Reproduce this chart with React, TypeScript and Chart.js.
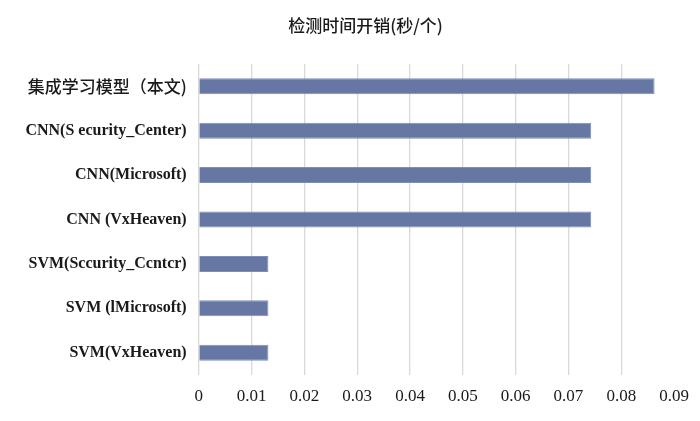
import React, { useEffect, useRef } from "react";
import { Chart, registerables } from "chart.js";

Chart.register(...registerables);

const titleText = "检测时间开销(秒/个)";
const categories = [
  "集成学习模型（本文)",
  "CNN(S ecurity_Center)",
  "CNN(Microsoft)",
  "CNN (VxHeaven)",
  "SVM(Sccurity_Ccntcr)",
  "SVM (lMicrosoft)",
  "SVM(VxHeaven)",
];
const times = [0.0863, 0.0743, 0.0743, 0.0743, 0.0132, 0.0132, 0.0132];
const xMin = 0;
const xMax = 0.09;
const xStep = 0.01;

const titlePlugin = {
  id: "offsetTitle",
  afterDraw(chart: any) {
    const ctx = chart.ctx;
    ctx.save();
    ctx.font = "500 17px 'Noto Sans CJK SC', 'Liberation Serif'";
    ctx.fillStyle = "#1a1a1a";
    ctx.textAlign = "center";
    ctx.textBaseline = "middle";
    ctx.fillText(titleText, 365.5, 26);
    ctx.restore();
  },
};

export default function App() {
  const ref = useRef<HTMLCanvasElement | null>(null);

  useEffect(() => {
    document.body.style.margin = "0";
    const canvas = ref.current;
    if (!canvas) return;
    const chart = new Chart(canvas, {
      type: "bar",
      data: {
        labels: categories,
        datasets: [
          {
            data: times,
            backgroundColor: "#6677a3",
            borderColor: "#7f8eb6",
            borderWidth: 1,
            barPercentage: 0.36,
            categoryPercentage: 1,
          },
        ],
      },
      options: {
        indexAxis: "y",
        responsive: false,
        animation: false,
        layout: { padding: { left: 0, right: 25, top: 64, bottom: 0 } },
        plugins: {
          legend: { display: false },
          tooltip: { enabled: false },
          title: { display: false },
        },
        scales: {
          x: {
            type: "linear",
            min: xMin,
            max: xMax,
            ticks: {
              stepSize: xStep,
              color: "#1a1a1a",
              padding: 11,
              font: { family: "'Liberation Serif', serif", size: 17 },
              callback: (v: any) => (Number(v) === 0 ? "0" : Number(v).toFixed(2)),
            },
            grid: {
              color: (ctx: any) => (ctx.index === 9 ? "rgba(0,0,0,0)" : "#d9d9d9"),
              lineWidth: 1.3,
              drawTicks: false,
            },
            border: { display: false },
            afterFit: (scale: any) => {
              scale.height = 46;
            },
          },
          y: {
            type: "category",
            offset: true,
            grid: { display: false, drawTicks: false },
            border: { display: false },
            ticks: {
              color: "#1a1a1a",
              padding: 12,
              font: (ctx: any) =>
                ctx.index === 0
                  ? { family: "'Noto Sans CJK SC', 'Liberation Serif'", size: 17, weight: "500" }
                  : { family: "'Liberation Serif', serif", size: 16, weight: "bold" },
            },
            afterFit: (scale: any) => {
              scale.width = 198.7;
            },
          },
        },
      },
      plugins: [titlePlugin],
    });
    return () => chart.destroy();
  }, []);

  return <canvas ref={ref} width={700} height={421} style={{ display: "block" }} />;
}
